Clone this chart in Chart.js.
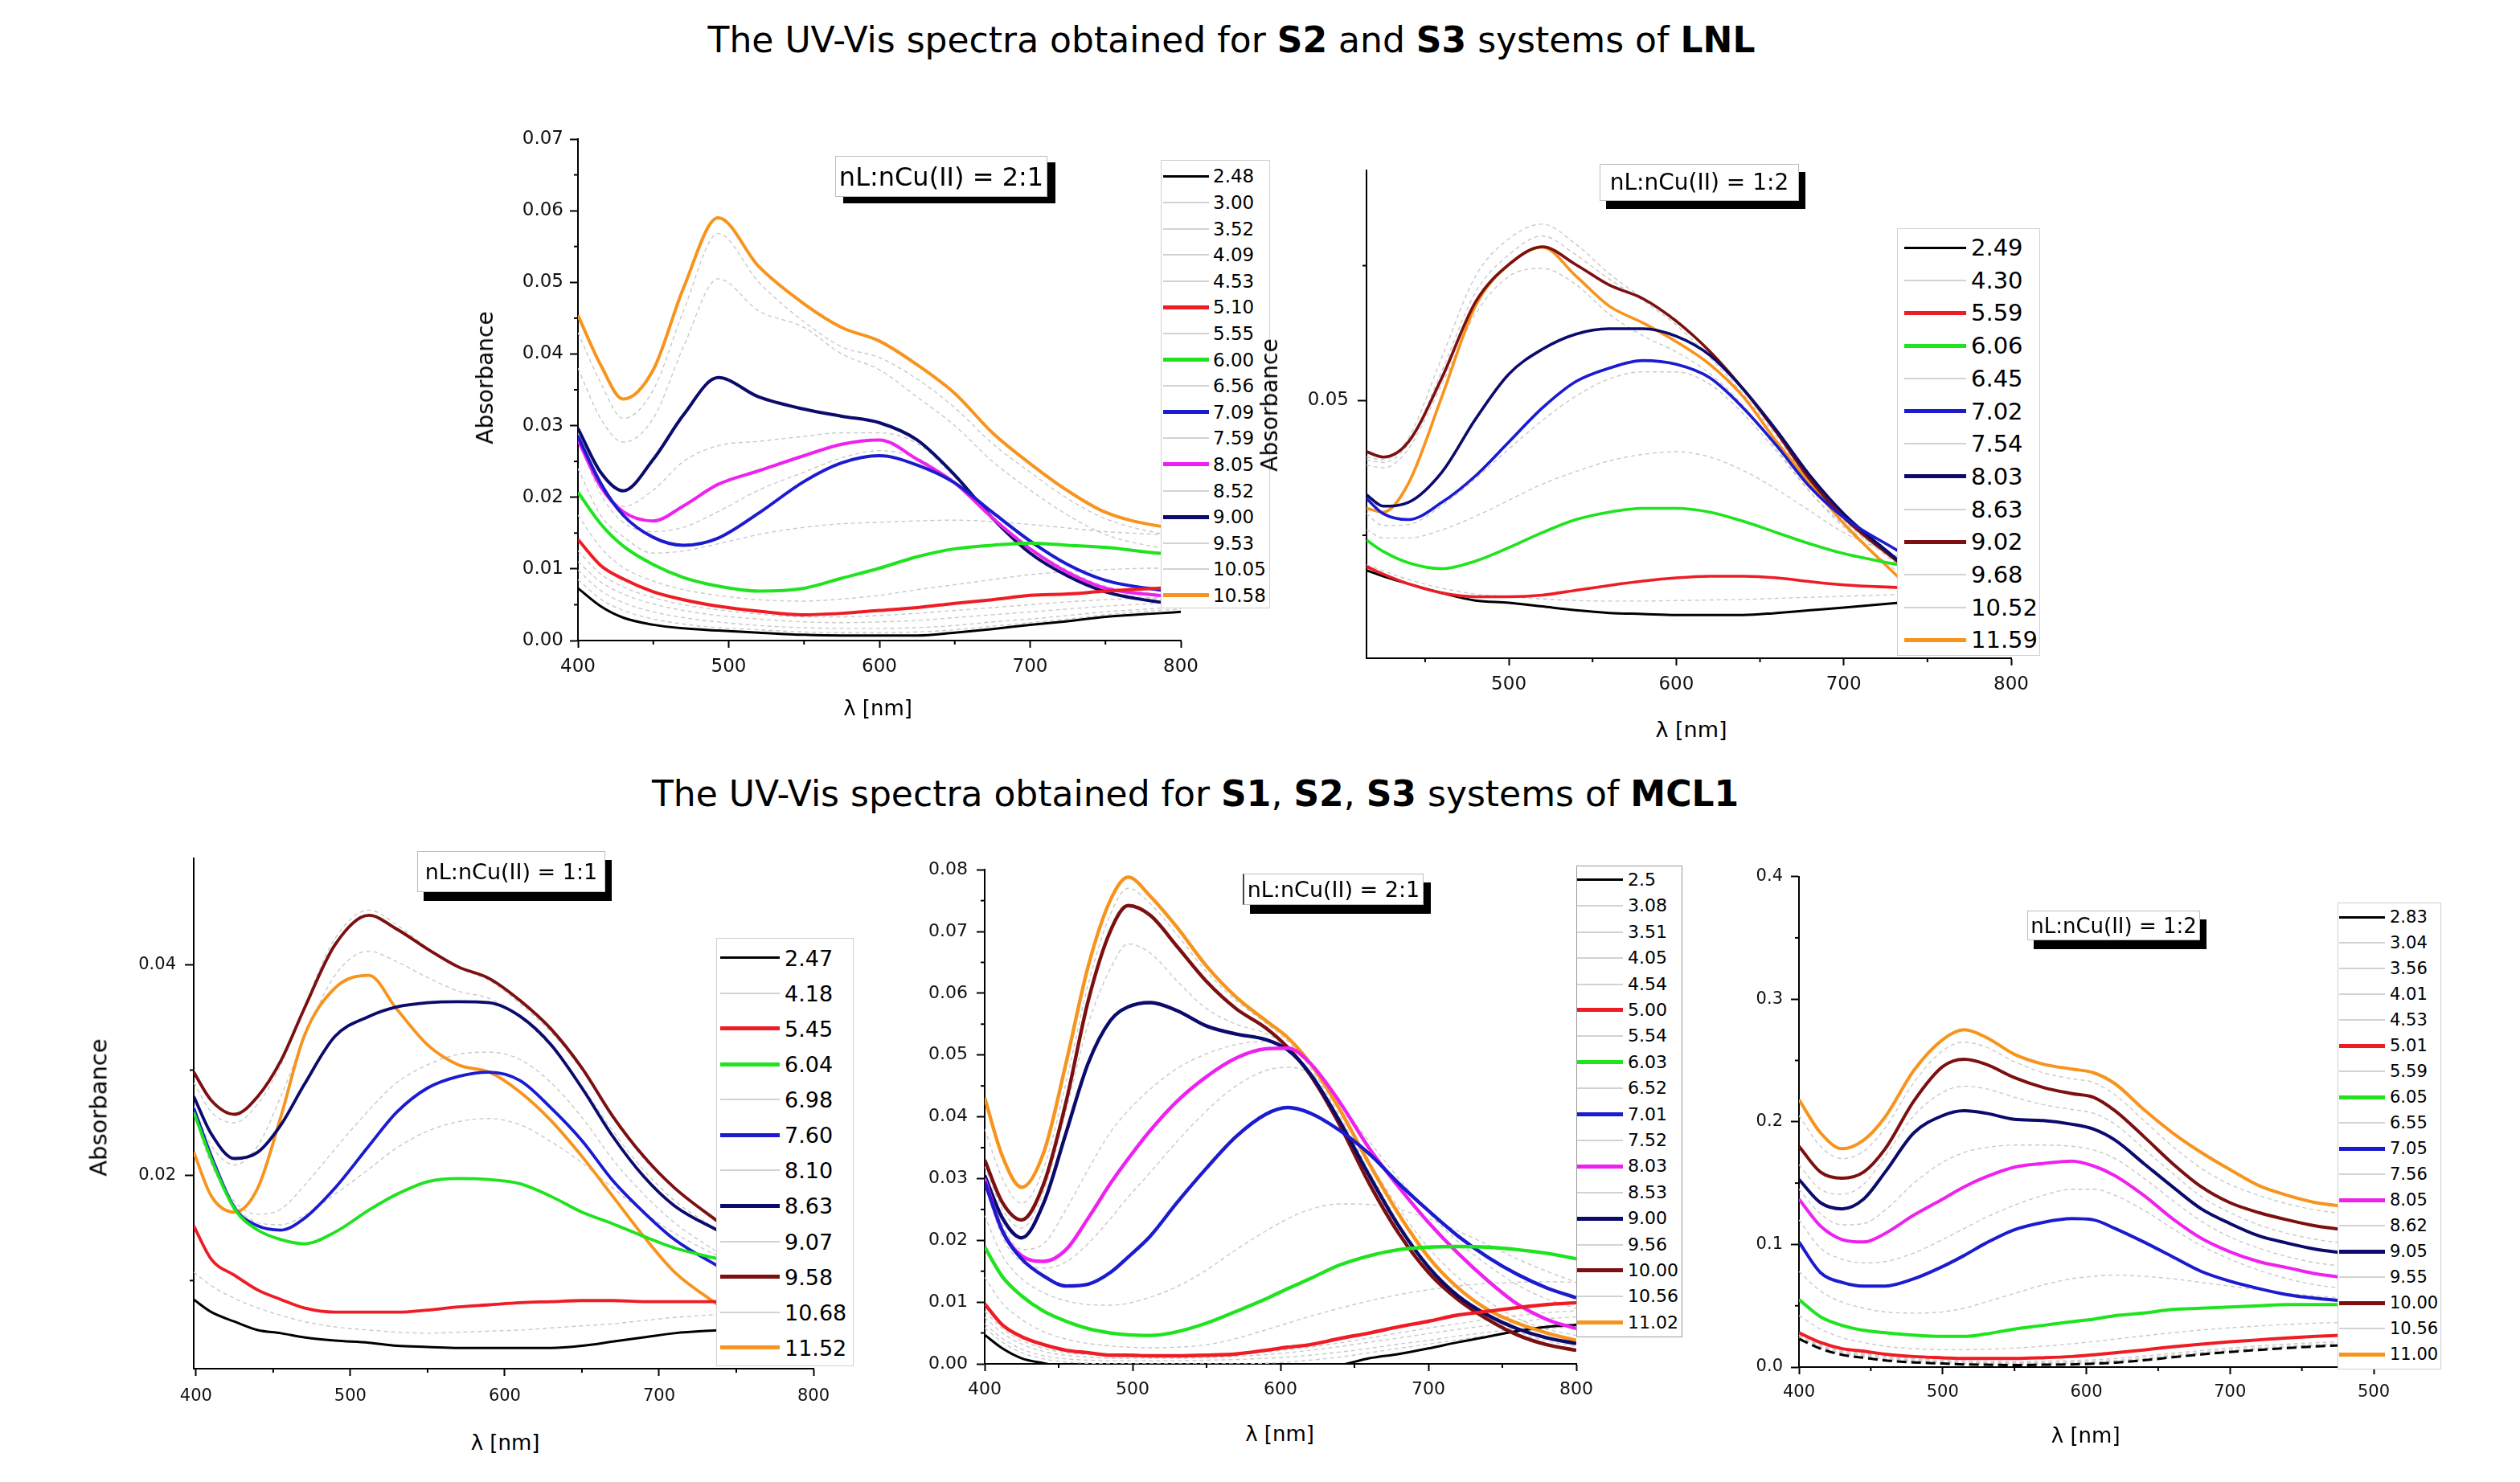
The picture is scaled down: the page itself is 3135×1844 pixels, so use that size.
<!DOCTYPE html>
<html>
<head>
<meta charset="utf-8">
<title>UV-Vis spectra</title>
<script src="https://cdn.jsdelivr.net/npm/chart.js@4.4.1/dist/chart.umd.min.js"></script>
<style>
html,body{margin:0;padding:0;background:#fff;}
body{position:relative;width:3135px;height:1844px;overflow:hidden;font-family:"DejaVu Sans","Liberation Sans",sans-serif;color:#000;}
canvas{position:absolute;}
.t{position:absolute;white-space:nowrap;line-height:1;}
.leg{position:absolute;background:#fff;box-sizing:border-box;}
.sw{position:absolute;}
.tb{position:absolute;background:#fff;box-sizing:border-box;border:1px solid #bdbdbd;display:flex;align-items:center;justify-content:center;white-space:nowrap;line-height:1;}
</style>
</head>
<body>
<script>
// ===================== DATA =====================
// ---- Chart 1: LNL, nL:nCu(II) = 2:1 ----
const c1X = [400,415,430,450,470,493,520,550,575,600,625,650,675,700,725,750,785,800];
const c1Labels = ['2.48','3.00','3.52','4.09','4.53','5.10','5.55','6.00','6.56','7.09','7.59','8.05','8.52','9.00','9.53','10.05','10.58'];
const c1_248 = [0.0073,0.0048,0.0032,0.0022,0.0017,0.0014,0.0011,0.0008,0.0007,0.0007,0.0007,0.0011,0.0016,0.0022,0.0027,0.0033,0.0038,0.0040];
const c1_300 = [0.0085,0.0058,0.0042,0.0030,0.0023,0.0018,0.0015,0.0012,0.0011,0.0011,0.0012,0.0015,0.0020,0.0025,0.0030,0.0036,0.0042,0.0044];
const c1_352 = [0.0098,0.0070,0.0053,0.0040,0.0032,0.0026,0.0021,0.0018,0.0017,0.0017,0.0018,0.0021,0.0026,0.0030,0.0035,0.0040,0.0045,0.0047];
const c1_409 = [0.0110,0.0082,0.0065,0.0051,0.0042,0.0035,0.0030,0.0026,0.0025,0.0026,0.0028,0.0032,0.0036,0.0040,0.0044,0.0048,0.0052,0.0054];
const c1_453 = [0.0125,0.0093,0.0075,0.0060,0.0050,0.0043,0.0037,0.0033,0.0033,0.0035,0.0038,0.0042,0.0046,0.0050,0.0054,0.0057,0.0060,0.0061];
const c1_510 = [0.0141,0.0105,0.0086,0.0068,0.0057,0.0048,0.0041,0.0036,0.0038,0.0042,0.0046,0.0052,0.0057,0.0063,0.0065,0.0069,0.0073,0.0074];
const c1_555 = [0.0175,0.0130,0.0102,0.0083,0.0071,0.0063,0.0057,0.0055,0.0058,0.0063,0.0071,0.0078,0.0085,0.0092,0.0096,0.0099,0.0101,0.0101];
const c1_600 = [0.0207,0.0163,0.0132,0.0106,0.0088,0.0076,0.0069,0.0073,0.0087,0.0101,0.0117,0.0128,0.0133,0.0136,0.0133,0.0130,0.0122,0.0120];
const c1_656 = [0.0240,0.0175,0.0145,0.0122,0.0125,0.0135,0.0148,0.0158,0.0163,0.0165,0.0167,0.0168,0.0166,0.0162,0.0157,0.0152,0.0148,0.0146];
const c1_709 = [0.0285,0.0220,0.0175,0.0144,0.0133,0.0143,0.0178,0.0222,0.0248,0.0258,0.0245,0.0220,0.0179,0.0139,0.0106,0.0084,0.0071,0.0068];
const c1_759 = [0.0283,0.0205,0.0165,0.0152,0.0158,0.0180,0.0210,0.0235,0.0255,0.0265,0.0255,0.0220,0.0173,0.0130,0.0098,0.0076,0.0065,0.0062];
const c1_805 = [0.0280,0.0215,0.0180,0.0167,0.0188,0.0218,0.0237,0.0258,0.0274,0.0280,0.0253,0.0220,0.0171,0.0128,0.0095,0.0073,0.0063,0.0060];
const c1_852 = [0.0290,0.0220,0.0187,0.0210,0.0250,0.0272,0.0278,0.0285,0.0290,0.0290,0.0275,0.0228,0.0172,0.0125,0.0093,0.0070,0.0058,0.0055];
const c1_900 = [0.0296,0.0235,0.0209,0.0253,0.0315,0.0367,0.0340,0.0323,0.0313,0.0304,0.0280,0.0231,0.0171,0.0122,0.0090,0.0068,0.0054,0.0051];
const c1_953 = [0.0380,0.0310,0.0277,0.0310,0.0410,0.0505,0.0460,0.0437,0.0400,0.0378,0.0340,0.0300,0.0250,0.0210,0.0175,0.0148,0.0130,0.0126];
const c1_1005 = [0.0430,0.0360,0.0310,0.0350,0.0460,0.0568,0.0500,0.0445,0.0410,0.0395,0.0365,0.0325,0.0275,0.0235,0.0198,0.0170,0.0150,0.0146];
const c1_1058 = [0.0454,0.0385,0.0337,0.0378,0.0492,0.0590,0.0522,0.0470,0.0437,0.0418,0.0385,0.0345,0.0290,0.0247,0.0209,0.0179,0.0160,0.0157];
const c1Series = [c1_248,c1_300,c1_352,c1_409,c1_453,c1_510,c1_555,c1_600,c1_656,c1_709,c1_759,c1_805,c1_852,c1_900,c1_953,c1_1005,c1_1058];
const c1XTicks = [400,500,600,700,800];
const c1XLabels = ['400','500','600','700','800'];
const c1XMinor = [450,550,650,750];
const c1YTicks = [0,0.01,0.02,0.03,0.04,0.05,0.06,0.07];
const c1YLabels = ['0.00','0.01','0.02','0.03','0.04','0.05','0.06','0.07'];
const c1YMinor = [0.005,0.015,0.025,0.035,0.045,0.055,0.065];

// ---- Chart 2: LNL, nL:nCu(II) = 1:2 ----
const c2X = [415,425,440,460,480,500,520,540,560,580,600,620,640,660,680,700,733];
const c2Labels = ['2.49','4.30','5.59','6.06','6.45','7.02','7.54','8.03','8.63','9.02','9.68','10.52','11.59'];
const c2_249 = [0.0185,0.0174,0.016,0.0143,0.0129,0.0125,0.0118,0.0111,0.0106,0.0104,0.0102,0.0102,0.0102,0.0106,0.0111,0.0116,0.0125];
const c2_430 = [0.0195,0.0184,0.0168,0.0152,0.0141,0.0136,0.0132,0.0129,0.0128,0.0128,0.0129,0.013,0.0131,0.0133,0.0135,0.0137,0.014];
const c2_559 = [0.0192,0.0178,0.016,0.0143,0.0136,0.0136,0.0139,0.0148,0.0157,0.0165,0.0171,0.0174,0.0174,0.0171,0.0164,0.0158,0.0153];
const c2_606 = [0.0241,0.022,0.0199,0.0188,0.0202,0.0227,0.0255,0.0279,0.0293,0.03,0.03,0.0293,0.0276,0.0255,0.0234,0.0216,0.0195];
const c2_645 = [0.026,0.0245,0.0245,0.026,0.0285,0.0315,0.0345,0.0368,0.0388,0.04,0.0405,0.0395,0.037,0.0335,0.0295,0.0255,0.021];
const c2_702 = [0.0318,0.029,0.0279,0.0311,0.036,0.0423,0.0486,0.0535,0.056,0.0574,0.0567,0.0542,0.0486,0.0416,0.0339,0.0283,0.022];
const c2_754 = [0.029,0.0268,0.027,0.0305,0.0355,0.041,0.0463,0.0508,0.054,0.0553,0.0553,0.053,0.0475,0.0405,0.033,0.027,0.0205];
const c2_803 = [0.0325,0.0304,0.0311,0.0367,0.0465,0.0549,0.0595,0.0623,0.0633,0.0633,0.0619,0.0584,0.0521,0.0444,0.036,0.029,0.0202];
const c2_863 = [0.038,0.0375,0.041,0.053,0.066,0.073,0.0745,0.0715,0.066,0.062,0.059,0.055,0.049,0.041,0.033,0.0265,0.018];
const c2_902 = [0.0405,0.0395,0.0423,0.0542,0.0682,0.0752,0.0785,0.0752,0.0714,0.0689,0.0647,0.0591,0.0521,0.044,0.0353,0.0283,0.0199];
const c2_968 = [0.039,0.0385,0.042,0.0555,0.07,0.077,0.0805,0.077,0.0725,0.0685,0.064,0.058,0.0512,0.0432,0.0348,0.0278,0.0193];
const c2_1052 = [0.0395,0.039,0.043,0.058,0.073,0.080,0.0827,0.079,0.0735,0.069,0.065,0.059,0.052,0.044,0.0355,0.0285,0.02];
const c2_1159 = [0.030,0.0293,0.0346,0.0507,0.0675,0.0752,0.0784,0.0731,0.0675,0.0644,0.0609,0.0567,0.0507,0.0423,0.0346,0.0272,0.0171];
const c2Series = [c2_249,c2_430,c2_559,c2_606,c2_645,c2_702,c2_754,c2_803,c2_863,c2_902,c2_968,c2_1052,c2_1159];
const c2XTicks = [500,600,700,800];
const c2XLabels = ['500','600','700','800'];
const c2XMinor = [450,550,650,750];
const c2YTicks = [0.05];
const c2YLabels = ['0.05'];
const c2YMinor = [0.025,0.075];

// ---- Chart 3: MCL1, nL:nCu(II) = 1:1 ----
const c3X = [398.5,410,425,440,455,470,490,512,530,550,570,590,610,630,650,670,690,710,740];
const c3Labels = ['2.47','4.18','5.45','6.04','6.98','7.60','8.10','8.63','9.07','9.58','10.68','11.52'];
const c3_247 = [0.0082,0.007,0.0061,0.0053,0.005,0.0046,0.0043,0.0041,0.0038,0.0037,0.0036,0.0036,0.0036,0.0036,0.0038,0.0042,0.0046,0.005,0.0053];
const c3_418 = [0.0108,0.0095,0.0083,0.0074,0.0067,0.0061,0.0056,0.0053,0.0051,0.005,0.0051,0.0052,0.0053,0.0055,0.0057,0.0059,0.0062,0.0065,0.0068];
const c3_545 = [0.0152,0.012,0.0105,0.0091,0.0082,0.0074,0.007,0.007,0.007,0.0072,0.0075,0.0077,0.0079,0.008,0.0081,0.0081,0.008,0.008,0.008];
const c3_604 = [0.026,0.0215,0.0168,0.0148,0.0139,0.0135,0.0146,0.0167,0.0182,0.0194,0.0197,0.0196,0.0192,0.018,0.0165,0.0154,0.0142,0.0131,0.012];
const c3_698 = [0.026,0.0212,0.0172,0.0155,0.0153,0.0162,0.0182,0.0206,0.0226,0.0242,0.0251,0.0254,0.0248,0.0232,0.0212,0.0188,0.0165,0.0145,0.0122];
const c3_760 = [0.0264,0.0218,0.0169,0.0152,0.0148,0.0159,0.0188,0.0228,0.026,0.0283,0.0294,0.0298,0.029,0.0264,0.0233,0.0195,0.0165,0.0139,0.0112];
const c3_810 = [0.0258,0.021,0.0175,0.0163,0.0168,0.019,0.0225,0.0262,0.0288,0.0305,0.0315,0.0317,0.031,0.0288,0.0255,0.0215,0.0182,0.0155,0.0125];
const c3_863 = [0.0275,0.0239,0.0216,0.0222,0.0248,0.0286,0.0332,0.0351,0.036,0.0364,0.0365,0.0364,0.0351,0.0324,0.0283,0.0237,0.0199,0.0171,0.0146];
const c3_907 = [0.0265,0.0228,0.021,0.0228,0.0275,0.033,0.039,0.0413,0.0403,0.0388,0.0375,0.0368,0.035,0.0322,0.0285,0.0242,0.0205,0.0176,0.0146];
const c3_958 = [0.0298,0.0271,0.0258,0.0275,0.0309,0.0358,0.0419,0.0447,0.0434,0.0415,0.0398,0.0387,0.0366,0.0339,0.0302,0.0256,0.0218,0.0188,0.0154];
const c3_1068 = [0.0288,0.026,0.025,0.0268,0.0305,0.036,0.0425,0.0452,0.0438,0.0416,0.0397,0.0385,0.0363,0.0336,0.03,0.0254,0.0216,0.0187,0.0153];
const c3_1152 = [0.0222,0.018,0.0165,0.0188,0.0256,0.0332,0.0378,0.039,0.0358,0.0324,0.0305,0.0298,0.0279,0.0252,0.0218,0.018,0.0142,0.0108,0.0075];
const c3Series = [c3_247,c3_418,c3_545,c3_604,c3_698,c3_760,c3_810,c3_863,c3_907,c3_958,c3_1068,c3_1152];
const c3XTicks = [400,500,600,700,800];
const c3XLabels = ['400','500','600','700','800'];
const c3XMinor = [450,550,650,750];
const c3YTicks = [0.02,0.04];
const c3YLabels = ['0.02','0.04'];
const c3YMinor = [0.01,0.03];

// ---- Chart 4: MCL1, nL:nCu(II) = 2:1 ----
const c4X = [400,412,425,440,455,470,485,497,512,530,550,570,590,605,620,640,660,680,700,720,740,760,780,800];
const c4Labels = ['2.5','3.08','3.51','4.05','4.54','5.00','5.54','6.03','6.52','7.01','7.52','8.03','8.53','9.00','9.56','10.00','10.56','11.02'];
const c4_250 = [0.0047,0.0025,0.0009,0.0001,-0.0006,-0.001,-0.0012,-0.0013,-0.0014,-0.0014,-0.0014,-0.0013,-0.0012,-0.001,-0.0007,-0.0002,0.0009,0.0016,0.0025,0.0035,0.0044,0.0053,0.006,0.0063];
const c4_308 = [0.0058,0.0035,0.0018,0.0008,0.0003,0.0001,0,0,0,0,0,0,0.0001,0.0003,0.0006,0.0011,0.0018,0.0025,0.0032,0.0039,0.0046,0.0052,0.0057,0.006];
const c4_351 = [0.0065,0.0041,0.0024,0.0013,0.0008,0.0006,0.0005,0.0005,0.0005,0.0005,0.0006,0.0007,0.0009,0.0011,0.0014,0.0019,0.0025,0.0032,0.0038,0.0045,0.0051,0.0057,0.0062,0.0065];
const c4_405 = [0.0075,0.005,0.0032,0.002,0.0014,0.0011,0.0009,0.0009,0.0009,0.0009,0.001,0.0012,0.0015,0.0018,0.0022,0.0028,0.0035,0.0042,0.0049,0.0056,0.0062,0.0068,0.0073,0.0076];
const c4_454 = [0.0085,0.0057,0.0038,0.0025,0.0018,0.0015,0.0013,0.0012,0.0012,0.0012,0.0013,0.0015,0.0019,0.0023,0.0027,0.0034,0.0042,0.005,0.0058,0.0065,0.0072,0.0078,0.0083,0.0086];
const c4_500 = [0.0097,0.0063,0.0044,0.0031,0.0022,0.0018,0.0014,0.0014,0.0013,0.0013,0.0014,0.0016,0.0022,0.0027,0.0031,0.0041,0.005,0.006,0.0069,0.0079,0.0085,0.0091,0.0096,0.0099];
const c4_554 = [0.014,0.0098,0.0072,0.0052,0.004,0.0033,0.0029,0.0027,0.0026,0.0027,0.0031,0.0041,0.0055,0.0066,0.0077,0.009,0.0102,0.0112,0.012,0.0126,0.013,0.0132,0.0133,0.0132];
const c4_603 = [0.0189,0.0141,0.011,0.0085,0.0069,0.0057,0.005,0.0047,0.0046,0.0052,0.0066,0.0085,0.0105,0.0122,0.0138,0.016,0.0175,0.0185,0.0189,0.019,0.0189,0.0185,0.0179,0.017];
const c4_652 = [0.024,0.0175,0.0138,0.0115,0.0102,0.0096,0.0095,0.0098,0.0108,0.0125,0.0152,0.0185,0.0215,0.0235,0.025,0.0259,0.0258,0.025,0.0235,0.0215,0.0193,0.017,0.015,0.0132];
const c4_701 = [0.0295,0.0215,0.017,0.0142,0.0126,0.0129,0.0148,0.0173,0.0207,0.0261,0.0317,0.0368,0.0404,0.0415,0.0406,0.0378,0.034,0.0292,0.0248,0.0207,0.0173,0.0145,0.0123,0.0107];
const c4_752 = [0.029,0.0205,0.0165,0.0155,0.0165,0.0195,0.0235,0.027,0.031,0.036,0.041,0.045,0.0475,0.048,0.047,0.042,0.036,0.03,0.0245,0.0198,0.016,0.0128,0.0105,0.009];
const c4_803 = [0.030,0.0215,0.0175,0.0166,0.0185,0.0236,0.0292,0.0332,0.0378,0.0425,0.0465,0.0495,0.051,0.0511,0.0487,0.0424,0.0349,0.0286,0.0229,0.0179,0.0135,0.0097,0.0072,0.0057];
const c4_853 = [0.0305,0.0225,0.0185,0.0195,0.025,0.0315,0.0375,0.041,0.0445,0.0478,0.0502,0.0517,0.0522,0.0515,0.0487,0.0415,0.0328,0.0252,0.0188,0.014,0.0102,0.0074,0.0056,0.0046];
const c4_900 = [0.0305,0.0236,0.0204,0.0261,0.0374,0.0487,0.0556,0.0578,0.0585,0.0572,0.0547,0.0534,0.0525,0.0508,0.047,0.0393,0.0305,0.0223,0.0157,0.011,0.0079,0.0057,0.0042,0.0033];
const c4_956 = [0.032,0.025,0.022,0.028,0.041,0.055,0.064,0.068,0.0665,0.062,0.0575,0.055,0.0535,0.0512,0.047,0.039,0.0298,0.0216,0.0152,0.0107,0.0075,0.0052,0.0037,0.0028];
const c4_1000 = [0.033,0.0261,0.0233,0.0292,0.0424,0.0588,0.0701,0.0742,0.0726,0.0676,0.0619,0.0575,0.0544,0.0512,0.0468,0.0387,0.0292,0.0211,0.0148,0.0104,0.0072,0.0047,0.0031,0.0022];
const c4_1056 = [0.038,0.03,0.026,0.0318,0.0455,0.0615,0.0728,0.077,0.0745,0.0695,0.0635,0.0588,0.0552,0.0522,0.048,0.0402,0.0312,0.0228,0.016,0.0113,0.008,0.0058,0.0043,0.0033];
const c4_1102 = [0.0431,0.0336,0.0286,0.0343,0.0487,0.0644,0.0751,0.0788,0.0757,0.0707,0.0644,0.0594,0.0556,0.0528,0.0487,0.0412,0.0324,0.0242,0.0173,0.0123,0.0088,0.0066,0.005,0.0038];
const c4Series = [c4_250,c4_308,c4_351,c4_405,c4_454,c4_500,c4_554,c4_603,c4_652,c4_701,c4_752,c4_803,c4_853,c4_900,c4_956,c4_1000,c4_1056,c4_1102];
const c4XTicks = [400,500,600,700,800];
const c4XLabels = ['400','500','600','700','800'];
const c4XMinor = [450,550,650,750];
const c4YTicks = [0,0.01,0.02,0.03,0.04,0.05,0.06,0.07,0.08];
const c4YLabels = ['0.00','0.01','0.02','0.03','0.04','0.05','0.06','0.07','0.08'];
const c4YMinor = [0.005,0.015,0.025,0.035,0.045,0.055,0.065,0.075];

// ---- Chart 5: MCL1, nL:nCu(II) = 1:2 ----
const c5X = [400,415,430,445,460,480,500,515,530,550,570,590,605,620,640,660,680,700,720,740,760,780];
const c5Labels = ['2.83','3.04','3.56','4.01','4.53','5.01','5.59','6.05','6.55','7.05','7.56','8.05','8.62','9.05','9.55','10.00','10.56','11.00'];
const c5_283 = [0.023,0.015,0.010,0.0076,0.0054,0.0038,0.0029,0.0022,0.0019,0.0016,0.0019,0.0022,0.0028,0.0036,0.0055,0.008,0.0103,0.0123,0.014,0.0155,0.0168,0.0178];
const c5_304 = [0.024,0.016,0.011,0.0085,0.0062,0.0045,0.0035,0.0028,0.0025,0.0023,0.0025,0.0029,0.0034,0.0042,0.006,0.0085,0.0107,0.0127,0.0144,0.0159,0.0171,0.0181];
const c5_356 = [0.025,0.0168,0.0118,0.0092,0.0068,0.005,0.004,0.0033,0.003,0.0028,0.003,0.0034,0.0039,0.0047,0.0065,0.009,0.0112,0.0132,0.0149,0.0164,0.0176,0.0186];
const c5_401 = [0.026,0.0178,0.0128,0.01,0.0076,0.0057,0.0046,0.004,0.0036,0.0034,0.0036,0.004,0.0046,0.0055,0.0073,0.0097,0.0119,0.0139,0.0156,0.0171,0.0183,0.0193];
const c5_453 = [0.027,0.019,0.014,0.0112,0.0088,0.0068,0.0056,0.005,0.0047,0.0045,0.0048,0.0053,0.006,0.007,0.009,0.0113,0.0135,0.0155,0.0172,0.0187,0.0199,0.0208];
const c5_501 = [0.028,0.02,0.015,0.013,0.0105,0.0086,0.0076,0.007,0.007,0.007,0.0076,0.0086,0.01,0.0117,0.014,0.0165,0.0187,0.0206,0.0222,0.0238,0.025,0.026];
const c5_559 = [0.042,0.031,0.024,0.02,0.017,0.015,0.0142,0.0142,0.0145,0.0155,0.017,0.019,0.0208,0.0228,0.0255,0.028,0.0302,0.032,0.0335,0.0348,0.0358,0.0365];
const c5_605 = [0.055,0.041,0.034,0.030,0.028,0.026,0.025,0.025,0.027,0.031,0.034,0.037,0.039,0.042,0.044,0.047,0.048,0.049,0.05,0.051,0.051,0.051];
const c5_655 = [0.078,0.062,0.053,0.048,0.045,0.044,0.045,0.048,0.053,0.06,0.067,0.072,0.074,0.075,0.074,0.072,0.069,0.066,0.063,0.06,0.058,0.056];
const c5_705 = [0.102,0.077,0.069,0.066,0.066,0.072,0.082,0.091,0.101,0.112,0.118,0.121,0.12,0.113,0.102,0.09,0.078,0.07,0.064,0.059,0.056,0.054];
const c5_756 = [0.12,0.097,0.088,0.085,0.086,0.093,0.104,0.113,0.122,0.132,0.14,0.145,0.145,0.14,0.128,0.113,0.099,0.088,0.079,0.072,0.067,0.064];
const c5_805 = [0.137,0.115,0.104,0.102,0.109,0.124,0.137,0.147,0.155,0.163,0.166,0.168,0.164,0.156,0.14,0.121,0.105,0.094,0.086,0.081,0.076,0.073];
const c5_862 = [0.145,0.125,0.116,0.117,0.128,0.15,0.167,0.175,0.179,0.181,0.181,0.18,0.177,0.17,0.154,0.136,0.119,0.106,0.097,0.09,0.085,0.082];
const c5_905 = [0.153,0.134,0.129,0.137,0.159,0.191,0.205,0.209,0.207,0.202,0.201,0.198,0.194,0.185,0.166,0.147,0.129,0.117,0.107,0.101,0.096,0.093];
const c5_955 = [0.165,0.145,0.141,0.149,0.172,0.205,0.224,0.229,0.227,0.22,0.214,0.21,0.207,0.198,0.178,0.158,0.139,0.126,0.116,0.109,0.104,0.101];
const c5_1000 = [0.18,0.159,0.154,0.159,0.178,0.217,0.245,0.251,0.247,0.236,0.228,0.223,0.22,0.209,0.188,0.166,0.147,0.134,0.126,0.12,0.115,0.112];
const c5_1056 = [0.205,0.18,0.17,0.176,0.195,0.232,0.258,0.265,0.261,0.249,0.24,0.235,0.232,0.222,0.201,0.18,0.162,0.149,0.14,0.133,0.128,0.125];
const c5_1100 = [0.218,0.191,0.178,0.185,0.204,0.242,0.267,0.275,0.269,0.255,0.247,0.243,0.24,0.231,0.21,0.191,0.175,0.161,0.148,0.14,0.134,0.131];
const c5Series = [c5_283,c5_304,c5_356,c5_401,c5_453,c5_501,c5_559,c5_605,c5_655,c5_705,c5_756,c5_805,c5_862,c5_905,c5_955,c5_1000,c5_1056,c5_1100];
const c5XTicks = [400,500,600,700,800];
const c5XLabels = ['400','500','600','700','500'];
const c5XMinor = [450,550,650,750];
const c5YTicks = [0,0.1,0.2,0.3,0.4];
const c5YLabels = ['0.0','0.1','0.2','0.3','0.4'];
const c5YMinor = [0.05,0.15,0.25,0.35];

// ===================== STYLE =====================
const COLORS = {k:'#000000', g:'#c9c9c9', r:'#ee1c24', gr:'#1fe31f', b:'#1b1bcf', n:'#0b0b6e', m:'#ee22ee', dr:'#7c1010', o:'#f7941d'};
const LEGCOLORS = {k:'#000000', g:'#d2d2d2', r:'#ee1c24', gr:'#1fe31f', b:'#1b1bcf', n:'#0b0b6e', m:'#ee22ee', dr:'#7c1010', o:'#f7941d'};
const c1Kinds = ['k','g','g','g','g','r','g','gr','g','b','g','m','g','n','g','g','o'];
const c2Kinds = ['k','g','r','gr','g','b','g','n','g','dr','g','g','o'];
const c3Kinds = ['k','g','r','gr','g','b','g','n','g','dr','g','o'];
const c4Kinds = ['k','g','g','g','g','r','g','gr','g','b','g','m','g','n','g','dr','g','o'];
const c5Kinds = ['k','g','g','g','g','r','g','gr','g','b','g','m','g','n','g','dr','g','o'];

Chart.defaults.font.family = "'DejaVu Sans','Liberation Sans',sans-serif";
Chart.defaults.color = '#111';

const PAD = {l:110, t:22, r:44, b:72};

const minorTicks = {
  id: 'minorTicks',
  afterDraw(chart, args, o) {
    const ctx = chart.ctx, xs = chart.scales.x, ys = chart.scales.y;
    ctx.save();
    ctx.strokeStyle = '#000';
    ctx.lineWidth = 2;
    (o.x || []).forEach(v => {
      const p = xs.getPixelForValue(v);
      ctx.beginPath(); ctx.moveTo(p, ys.bottom); ctx.lineTo(p, ys.bottom + o.len); ctx.stroke();
    });
    (o.y || []).forEach(v => {
      const p = ys.getPixelForValue(v);
      ctx.beginPath(); ctx.moveTo(xs.left, p); ctx.lineTo(xs.left - o.len, p); ctx.stroke();
    });
    ctx.restore();
  }
};

const specs = [
  {x:c1X, series:c1Series, labels:c1Labels, kinds:c1Kinds, area:[719,173,1469,797], xr:[400,800], yr:[0,0.07],
   xt:c1XTicks, xl:c1XLabels, xm:c1XMinor, yt:c1YTicks, yl:c1YLabels, ym:c1YMinor, font:23, lw:4, ytl:10, ypad:8, xtl:9, xpad:10, dashBlack:false},
  {x:c2X, series:c2Series, labels:c2Labels, kinds:c2Kinds, area:[1700,209,2502,819], xr:[415,800], yr:[0.0022,0.0927],
   xt:c2XTicks, xl:c2XLabels, xm:c2XMinor, yt:c2YTicks, yl:c2YLabels, ym:c2YMinor, font:23, lw:3.6, ytl:11, ypad:11, xtl:9, xpad:10, dashBlack:false},
  {x:c3X, series:c3Series, labels:c3Labels, kinds:c3Kinds, area:[241,1066,1012,1703], xr:[398.5,800], yr:[0.00163,0.05015],
   xt:c3XTicks, xl:c3XLabels, xm:c3XMinor, yt:c3YTicks, yl:c3YLabels, ym:c3YMinor, font:21, lw:3.8, ytl:11, ypad:11, xtl:9, xpad:13, dashBlack:false},
  {x:c4X, series:c4Series, labels:c4Labels, kinds:c4Kinds, area:[1225,1080,1961,1697], xr:[400,800], yr:[0,0.08],
   xt:c4XTicks, xl:c4XLabels, xm:c4XMinor, yt:c4YTicks, yl:c4YLabels, ym:c4YMinor, font:22, lw:4.4, ytl:10, ypad:11, xtl:9, xpad:10, dashBlack:false},
  {x:c5X, series:c5Series, labels:c5Labels, kinds:c5Kinds, area:[2238,1090,2953,1701], xr:[400,800], yr:[0,0.4],
   xt:c5XTicks, xl:c5XLabels, xm:c5XMinor, yt:c5YTicks, yl:c5YLabels, ym:c5YMinor, font:21, lw:4, ytl:10, ypad:10, xtl:9, xpad:10, dashBlack:true}
];

// legend geometry: [boxL, boxT, boxR, boxB, firstY, step, sampleL, sampleR, textL, fontSize, borderColor]
const legendGeo = [
  [1444,199,1580,757, 219.3,32.6, 1447,1504,1509, 23, '#cfcfcf'],
  [2360,284,2538,816, 308,40.7, 2369,2446,2452, 29, '#cfcfcf'],
  [891,1167,1062,1700, 1191.7,44.1, 896,970,976, 27, '#cfcfcf'],
  [1961,1077,2093,1664, 1094.9,32.4, 1962,2019,2025, 22, '#9a9a9a'],
  [2908,1123,3037,1704, 1141.2,32.0, 2910,2967,2973, 21, '#cfcfcf']
];

function el(cls) { const d = document.createElement('div'); d.className = cls; document.body.appendChild(d); return d; }

function buildChart(s) {
  const [l,t,r,b] = s.area;
  const W = PAD.l + (r - l) + PAD.r, H = PAD.t + (b - t) + PAD.b;
  const cv = document.createElement('canvas');
  cv.width = W; cv.height = H;
  cv.style.left = (l - PAD.l) + 'px'; cv.style.top = (t - PAD.t) + 'px';
  cv.style.width = W + 'px'; cv.style.height = H + 'px';
  document.body.appendChild(cv);
  const datasets = s.series.map((arr, i) => {
    const k = s.kinds[i];
    return {
      label: s.labels[i],
      data: s.x.map((xv, j) => ({x: xv, y: arr[j]})),
      borderColor: COLORS[k],
      borderWidth: k === 'g' ? 1.4 : (k === 'k' ? 3 : s.lw),
      borderDash: k === 'g' ? [5, 4] : ((k === 'k' && s.dashBlack) ? [12, 6] : []),
      pointRadius: 0,
      fill: false,
      cubicInterpolationMode: 'monotone',
      order: k === 'g' ? 2 : (k === 'k' ? 1 : 0)
    };
  });
  const axisCommon = (tl) => ({
    grid: {display: true, drawOnChartArea: false, drawTicks: true, tickLength: tl, tickWidth: 2, tickColor: '#000'},
    border: {display: true, color: '#000', width: 2}
  });
  new Chart(cv.getContext('2d'), {
    type: 'line',
    data: {datasets},
    options: {
      responsive: false, animation: false, devicePixelRatio: 1,
      layout: {padding: {left: 0, top: PAD.t, right: PAD.r, bottom: 0}},
      plugins: {legend: {display: false}, tooltip: {enabled: false}, title: {display: false},
                minorTicks: {x: s.xm, y: s.ym, len: 5}},
      scales: {
        x: Object.assign(axisCommon(s.xtl), {
          type: 'linear', min: s.xr[0], max: s.xr[1],
          afterFit: sc => { sc.height = PAD.b; },
          afterBuildTicks: sc => { sc.ticks = s.xt.map(v => ({value: v})); },
          ticks: {autoSkip: false, maxRotation: 0, padding: s.xpad, color: '#111', font: {size: s.font},
                  callback: (v, i) => s.xl[i]}
        }),
        y: Object.assign(axisCommon(s.ytl), {
          type: 'linear', min: s.yr[0], max: s.yr[1],
          afterFit: sc => { sc.width = PAD.l; },
          afterBuildTicks: sc => { sc.ticks = s.yt.map(v => ({value: v})); },
          ticks: {autoSkip: false, padding: s.ypad, color: '#111', font: {size: s.font},
                  callback: (v, i) => s.yl[i]}
        })
      }
    },
    plugins: [minorTicks]
  });
}

function buildLegend(g, labels, kinds) {
  const [bl,bt,br,bb,y0,step,sl,sr,tl,fs,bc] = g;
  const box = el('leg');
  box.style.left = bl + 'px'; box.style.top = bt + 'px';
  box.style.width = (br - bl) + 'px'; box.style.height = (bb - bt) + 'px';
  box.style.border = '1.5px solid ' + bc;
  labels.forEach((lab, i) => {
    const cy = y0 + i * step, k = kinds[i];
    const h = k === 'g' ? 2 : (k === 'k' ? 3 : 5);
    const sw = el('sw');
    sw.style.left = sl + 'px'; sw.style.width = (sr - sl) + 'px';
    sw.style.top = (cy - h / 2) + 'px'; sw.style.height = h + 'px';
    sw.style.background = LEGCOLORS[k];
    const tx = el('t');
    tx.textContent = lab;
    tx.style.left = tl + 'px'; tx.style.top = cy + 'px';
    tx.style.fontSize = fs + 'px'; tx.style.transform = 'translateY(-50%)';
  });
}

function textAt(html, x, y, size, rot) {
  const d = el('t');
  d.innerHTML = html;
  d.style.left = x + 'px'; d.style.top = y + 'px'; d.style.fontSize = size + 'px';
  d.style.transform = 'translate(-50%,-50%)' + (rot ? ' rotate(-90deg)' : '');
  return d;
}

function titleBox(txt, l, t, w, h, fs, sx, sy, leftBorder) {
  const d = el('tb');
  d.textContent = txt;
  d.style.left = l + 'px'; d.style.top = t + 'px'; d.style.width = w + 'px'; d.style.height = h + 'px';
  d.style.fontSize = fs + 'px';
  d.style.boxShadow = sx + 'px ' + sy + 'px 0 #000';
  if (leftBorder) d.style.borderLeft = '2px solid #444';
}

specs.forEach(buildChart);
buildLegend(legendGeo[0], c1Labels, c1Kinds);
buildLegend(legendGeo[1], c2Labels, c2Kinds);
buildLegend(legendGeo[2], c3Labels, c3Kinds);
buildLegend(legendGeo[3], c4Labels, c4Kinds);
buildLegend(legendGeo[4], c5Labels, c5Kinds);

titleBox('nL:nCu(II) = 2:1', 1039, 194, 264, 51, 32, 10, 8, false);
titleBox('nL:nCu(II) = 1:2', 1990, 204, 248, 46, 28, 8, 10, false);
titleBox('nL:nCu(II) = 1:1', 519, 1059, 234, 51, 27, 8, 11, false);
titleBox('nL:nCu(II) = 2:1', 1546, 1087, 225, 39, 27, 9, 11, true);
titleBox('nL:nCu(II) = 1:2', 2522, 1133, 215, 37, 26, 8, 11, false);

textAt('The UV-Vis spectra obtained for <b>S2</b> and <b>S3</b> systems of <b>LNL</b>', 1532, 50, 44);
textAt('The UV-Vis spectra obtained for <b>S1</b>, <b>S2</b>, <b>S3</b> systems of <b>MCL1</b>', 1487, 988, 44);

textAt('Absorbance', 603.5, 470, 28, true);
textAt('λ [nm]', 1092, 881, 26);
textAt('Absorbance', 1580, 504, 28, true);
textAt('λ [nm]', 2104, 907, 27);
textAt('Absorbance', 123, 1378, 29, true);
textAt('λ [nm]', 628.5, 1795, 26);
textAt('λ [nm]', 1592, 1783.5, 26);
textAt('λ [nm]', 2594.7, 1786, 26);
</script>
</body>
</html>
